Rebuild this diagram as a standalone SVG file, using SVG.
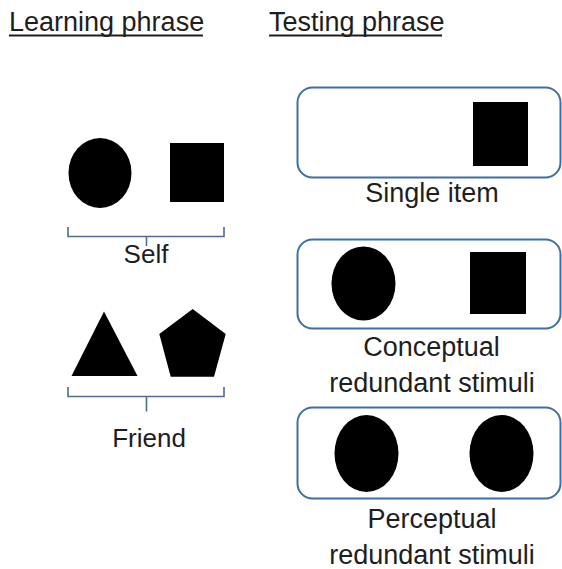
<svg xmlns="http://www.w3.org/2000/svg" width="562" height="569" viewBox="0 0 562 569">
  <style>
    text { font-family: "Liberation Sans", Arial, sans-serif; fill: #1e1e1e; }
    .head { font-size: 27px; }
    .lbl { font-size: 26px; text-anchor: middle; }
    .cap { font-size: 27px; text-anchor: middle; }
    .shape { fill: #000; }
    .brace { fill: none; stroke: #4f6c93; stroke-width: 1.6; }
    .panel { fill: #fff; stroke: #3d6ea5; stroke-width: 2; }
    .uline { stroke: #1e1e1e; stroke-width: 2; }
  </style>
  <rect width="562" height="569" fill="#fff"/>

  <!-- column headings -->
  <g id="heading-learning">
    <text class="head" x="9" y="31">Learning phrase</text>
    <line class="uline" x1="9" y1="35.5" x2="203" y2="35.5"/>
  </g>
  <g id="heading-testing">
    <text class="head" x="269" y="31">Testing phrase</text>
    <line class="uline" x1="269" y1="35.5" x2="442" y2="35.5"/>
  </g>

  <!-- learning: self -->
  <g id="self">
    <ellipse class="shape" cx="100" cy="173" rx="31.5" ry="35"/>
    <rect class="shape" x="170" y="143" width="54" height="59"/>
    <path class="brace" d="M68 227 V236.5 H224 V227 M146.5 236.5 V246"/>
    <text class="lbl" x="146" y="263">Self</text>
  </g>

  <!-- learning: friend -->
  <g id="friend">
    <polygon class="shape" points="104,311.5 137.5,376 71.5,376"/>
    <polygon class="shape" points="192.7,309 225.7,334 214,376.7 170.7,376.7 159.3,334"/>
    <path class="brace" d="M68 387 V396.5 H224 V387 M146.5 396.5 V411.5"/>
    <text class="lbl" x="149" y="447">Friend</text>
  </g>

  <!-- testing: single item -->
  <g id="single-item">
    <rect class="panel" x="297.5" y="87.5" width="263" height="90" rx="15"/>
    <rect class="shape" x="473" y="102" width="55" height="64"/>
    <text class="cap" x="432" y="202">Single item</text>
  </g>

  <!-- testing: conceptual redundant -->
  <g id="conceptual-redundant">
    <rect class="panel" x="297.5" y="239.5" width="263" height="89" rx="15"/>
    <ellipse class="shape" cx="363.5" cy="283.5" rx="32" ry="37"/>
    <rect class="shape" x="470" y="252" width="56" height="62"/>
    <text class="cap" x="431.5" y="356">Conceptual</text>
    <text class="cap" x="432" y="392">redundant stimuli</text>
  </g>

  <!-- testing: perceptual redundant -->
  <g id="perceptual-redundant">
    <rect class="panel" x="297.5" y="407.5" width="263" height="91" rx="15"/>
    <ellipse class="shape" cx="366.5" cy="453.5" rx="32" ry="38.5"/>
    <ellipse class="shape" cx="501.5" cy="453.5" rx="32" ry="38.5"/>
    <text class="cap" x="432" y="528">Perceptual</text>
    <text class="cap" x="432" y="564">redundant stimuli</text>
  </g>

  <g id="connectors"></g>
</svg>
